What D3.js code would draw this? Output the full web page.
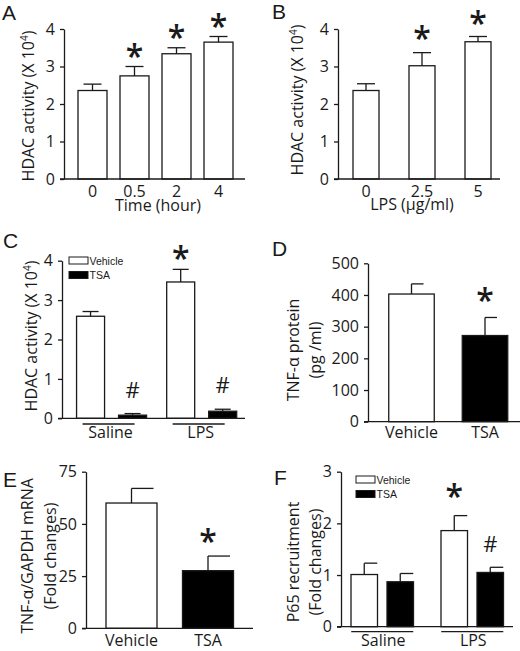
<!DOCTYPE html>
<html><head><meta charset="utf-8">
<script src="https://cdn.jsdelivr.net/npm/d3@7"></script>
<style>
body{margin:0;background:#fff}
svg{display:block}
</style>
</head><body>
<svg id="chart" width="520" height="651"></svg>
<script>
// ---------- DATA ----------
const aCategories = ["0", "0.5", "2", "4"];
const aValues = [2.36, 2.75, 3.34, 3.65];
const aErrors = [0.17, 0.25, 0.16, 0.15];
const aMarks = ["", "*", "*", "*"];
const aTicks = [0, 1, 2, 3, 4];

const bCategories = ["0", "2.5", "5"];
const bValues = [2.36, 3.02, 3.66];
const bErrors = [0.18, 0.35, 0.14];
const bMarks = ["", "*", "*"];
const bTicks = [0, 1, 2, 3, 4];

const cGroups = ["Saline", "LPS"];
const cSeries = ["Vehicle", "TSA"];
const cVehicle = [2.59, 3.46];
const cVehicleErr = [0.12, 0.32];
const cTSA = [0.08, 0.18];
const cTSAErr = [0.04, 0.05];
const cVehicleMarks = ["", "*"];
const cTSAMarks = ["#", "#"];
const cTicks = [0, 1, 2, 3, 4];

const dCategories = ["Vehicle", "TSA"];
const dValues = [403, 272];
const dErrors = [32, 57];
const dMarks = ["", "*"];
const dTicks = [0, 100, 200, 300, 400, 500];

const eCategories = ["Vehicle", "TSA"];
const eValues = [60, 27.6];
const eErrors = [7, 7];
const eMarks = ["", "*"];
const eTicks = [0, 25, 50, 75];

const fGroups = ["Saline", "LPS"];
const fSeries = ["Vehicle", "TSA"];
const fVehicle = [1.01, 1.86];
const fVehicleErr = [0.22, 0.29];
const fTSA = [0.87, 1.05];
const fTSAErr = [0.16, 0.10];
const fVehicleMarks = ["", "*"];
const fTSAMarks = ["", "#"];
const fTicks = [0, 1, 2, 3];

// ---------- STYLE ----------
const FONT = "'Open Sans', sans-serif";
const LEGFONT = "'Liberation Sans', Arial, sans-serif";
const INK = "#1a1a1a";
const SW = 1.3;
const seriesFill = {Vehicle: "#ffffff", TSA: "#000000"};

const svg = d3.select("#chart");

function letter(t, x, y) {
  svg.append("text").attr("x", x).attr("y", y).attr("font-family", LEGFONT)
    .attr("font-size", 21).attr("fill", INK).text(t);
}

function yAxis(y, x, ticks) {
  const g = svg.append("g").attr("transform", `translate(${x},0)`)
    .call(d3.axisLeft(y).tickValues(ticks).tickSize(4).tickSizeOuter(0).tickPadding(5).tickFormat(d3.format("d")));
  g.attr("font-family", FONT).attr("font-size", 16);
  g.select(".domain").attr("stroke", INK).attr("stroke-width", SW);
  g.selectAll(".tick line").attr("stroke", INK).attr("stroke-width", SW);
  g.selectAll(".tick text").attr("fill", INK);
}

function baseline(x0, x1, yb) {
  svg.append("line").attr("x1", x0 - 4).attr("x2", x1).attr("y1", yb).attr("y2", yb)
    .attr("stroke", INK).attr("stroke-width", SW);
}

function yTitle(lines, xs, cy, sup) {
  lines.forEach((ln, i) => {
    const t = svg.append("text")
      .attr("transform", `translate(${xs[i]},${cy}) rotate(-90)`)
      .attr("text-anchor", "middle").attr("dy", "0.35em")
      .attr("font-family", FONT).attr("font-size", 16).attr("fill", INK);
    if (sup && i === 0) {
      t.append("tspan").text("HDAC activity (X 10");
      t.append("tspan").attr("font-size", 10).attr("dy", -6).text("4");
      t.append("tspan").attr("dy", 6).text(")");
    } else {
      t.text(ln);
    }
  });
}

// bar with error bar; capMode "both" or "right"
function bar(y, x, w, v, e, fill, capMode, capLen, mark, markOff) {
  const y0 = y(0), yt = y(v), ye = y(v + e), cx = x + w / 2;
  svg.append("rect").attr("x", x).attr("y", yt).attr("width", w).attr("height", y0 - yt)
    .attr("fill", fill).attr("stroke", INK).attr("stroke-width", SW);
  svg.append("line").attr("x1", cx).attr("x2", cx).attr("y1", yt).attr("y2", ye)
    .attr("stroke", INK).attr("stroke-width", SW);
  const xl = capMode === "both" ? cx - capLen : cx;
  svg.append("line").attr("x1", xl).attr("x2", cx + capLen).attr("y1", ye).attr("y2", ye)
    .attr("stroke", INK).attr("stroke-width", SW);
  if (mark === "*") {
    svg.append("text").attr("x", cx).attr("y", ye - markOff + 17).attr("text-anchor", "middle")
      .attr("font-family", FONT).attr("font-size", 32).attr("font-weight", 600).attr("fill", INK).text("*");
  } else if (mark === "#") {
    svg.append("text").attr("x", cx).attr("y", ye - markOff + 8).attr("text-anchor", "middle")
      .attr("font-family", FONT).attr("font-size", 22).attr("fill", INK).text("#");
  }
}

function xLabels(x, cats, yb, yText) {
  cats.forEach(c => {
    svg.append("text").attr("x", x(c) + x.bandwidth() / 2).attr("y", yText)
      .attr("text-anchor", "middle").attr("font-family", FONT).attr("font-size", 16)
      .attr("fill", INK).text(c);
  });
}

function legend(x, y, series) {
  series.forEach((s, i) => {
    svg.append("rect").attr("x", x).attr("y", y + i * 14.5).attr("width", 19).attr("height", 7)
      .attr("fill", seriesFill[s]).attr("stroke", INK).attr("stroke-width", 1);
    svg.append("text").attr("x", x + 20.5).attr("y", y + i * 14.5 + 7.5)
      .attr("font-family", LEGFONT).attr("font-size", 10.5).attr("fill", INK).text(s);
  });
}

function bandFor(cats, firstCenter, step, width) {
  const pi = 1 - width / step;
  return d3.scaleBand().domain(cats)
    .range([firstCenter - step / 2, firstCenter - step / 2 + cats.length * step])
    .paddingInner(pi).paddingOuter(pi / 2);
}

// ---------- PANEL A ----------
{
  const y = d3.scaleLinear().domain([0, 4]).range([179, 29]);
  const x = bandFor(aCategories, 92.5, 42, 29);
  letter("A", 2, 20);
  yAxis(y, 64, aTicks);
  aCategories.forEach((c, i) => bar(y, x(c), x.bandwidth(), aValues[i], aErrors[i], "#fff", "both", 9, aMarks[i], 16));
  baseline(64, 245, y(0));
  xLabels(x, aCategories, y(0), 196.5);
  svg.append("text").attr("x", 158).attr("y", 210.5).attr("text-anchor", "middle")
    .attr("font-family", FONT).attr("font-size", 16).attr("fill", INK).text("Time (hour)");
  yTitle(["HDAC activity (X 104)"], [28], 106, true);
}

// ---------- PANEL B ----------
{
  const y = d3.scaleLinear().domain([0, 4]).range([179, 29]);
  const x = bandFor(bCategories, 366, 56, 26);
  letter("B", 272, 19);
  yAxis(y, 338, bTicks);
  const offs = [16, 20, 19];
  bCategories.forEach((c, i) => bar(y, x(c), x.bandwidth(), bValues[i], bErrors[i], "#fff", "both", 9, bMarks[i], offs[i]));
  baseline(338, 500, y(0));
  xLabels(x, bCategories, y(0), 196.5);
  svg.append("text").attr("x", 412).attr("y", 210).attr("text-anchor", "middle")
    .attr("font-family", FONT).attr("font-size", 16).attr("fill", INK).text("LPS (μg/ml)");
  yTitle(["HDAC activity (X 104)"], [297], 100, true);
}

// ---------- PANEL C ----------
{
  const y = d3.scaleLinear().domain([0, 4]).range([418.3, 260.7]);
  const x0 = d3.scaleBand().domain(cGroups).range([66.5, 246.75]);
  const bw = x0.bandwidth();
  const x1 = d3.scaleBand().domain(cSeries).range([bw / 2 - 42, bw / 2 + 42])
    .paddingInner(1 - 28 / 42).paddingOuter((1 - 28 / 42) / 2);
  letter("C", 3, 248);
  yAxis(y, 62, cTicks);
  cGroups.forEach((g, i) => {
    bar(y, x0(g) + x1("Vehicle"), x1.bandwidth(), cVehicle[i], cVehicleErr[i], seriesFill.Vehicle, "both", 8, cVehicleMarks[i], 16);
    bar(y, x0(g) + x1("TSA"), x1.bandwidth(), cTSA[i], cTSAErr[i], seriesFill.TSA, "both", 8, cTSAMarks[i], 24);
    const gc = x0(g) + bw / 2;
    svg.append("line").attr("x1", gc - 29).attr("x2", gc + 23).attr("y1", 424).attr("y2", 424)
      .attr("stroke", INK).attr("stroke-width", SW);
    svg.append("text").attr("x", gc - 1).attr("y", 437.5).attr("text-anchor", "middle")
      .attr("font-family", FONT).attr("font-size", 16).attr("fill", INK).text(g);
  });
  baseline(62, 245, y(0));
  legend(69, 257, cSeries);
  yTitle(["HDAC activity (X 104)"], [31.5], 336, true);
}

// ---------- PANEL D ----------
{
  const y = d3.scaleLinear().domain([0, 500]).range([421.7, 263.3]);
  const x = bandFor(dCategories, 411.5, 73.5, 45.5);
  letter("D", 272, 256);
  yAxis(y, 368, dTicks);
  dCategories.forEach((c, i) => bar(y, x(c), x.bandwidth(), dValues[i], dErrors[i], seriesFill[c], "right", 12, dMarks[i], 22));
  baseline(368, 520, y(0));
  xLabels(x, dCategories, y(0), 437.5);
  yTitle(["TNF-α protein", "(pg /ml)"], [293, 315], 350, false);
}

// ---------- PANEL E ----------
{
  const y = d3.scaleLinear().domain([0, 75]).range([628.3, 471.7]);
  const x = bandFor(eCategories, 131.5, 76.5, 51);
  letter("E", 3, 487);
  yAxis(y, 86, eTicks);
  eCategories.forEach((c, i) => bar(y, x(c), x.bandwidth(), eValues[i], eErrors[i], seriesFill[c], "right", 22, eMarks[i], 20));
  baseline(86, 253, y(0));
  xLabels(x, eCategories, y(0), 646);
  yTitle(["TNF-α/GAPDH mRNA", "(Fold changes)"], [27, 50], 556, false);
}

// ---------- PANEL F ----------
{
  const y = d3.scaleLinear().domain([0, 3]).range([626.7, 471.7]);
  const x0 = d3.scaleBand().domain(fGroups).range([337.25, 517.25]);
  const bw = x0.bandwidth();
  const x1 = d3.scaleBand().domain(fSeries).range([bw / 2 - 36, bw / 2 + 36])
    .paddingInner(1 - 26.5 / 36).paddingOuter((1 - 26.5 / 36) / 2);
  letter("F", 274, 485);
  yAxis(y, 341, fTicks);
  fGroups.forEach((g, i) => {
    bar(y, x0(g) + x1("Vehicle"), x1.bandwidth(), fVehicle[i], fVehicleErr[i], seriesFill.Vehicle, "right", 13, fVehicleMarks[i], 25);
    bar(y, x0(g) + x1("TSA"), x1.bandwidth(), fTSA[i], fTSAErr[i], seriesFill.TSA, "right", 13, fTSAMarks[i], 23);
    const gc = x0(g) + bw / 2;
    svg.append("line").attr("x1", gc - 31).attr("x2", gc + 31).attr("y1", 631.7).attr("y2", 631.7)
      .attr("stroke", INK).attr("stroke-width", SW);
    svg.append("text").attr("x", gc + 1).attr("y", 646.3).attr("text-anchor", "middle")
      .attr("font-family", FONT).attr("font-size", 16).attr("fill", INK).text(g);
  });
  baseline(341, 513, y(0));
  legend(356, 476, fSeries);
  yTitle(["P65 recruitment", "(Fold changes)"], [293, 315], 562, false);
}
</script>
</body></html>
